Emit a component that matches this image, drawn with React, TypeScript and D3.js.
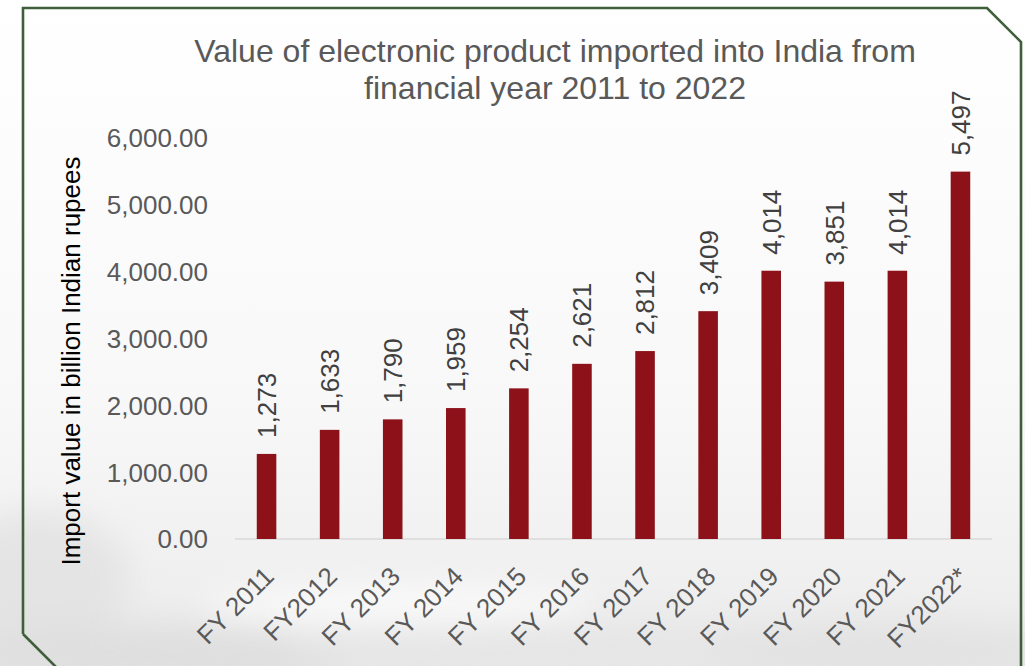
import React from "react";
import * as d3 from "d3";

const categories = ["FY 2011", "FY2012", "FY 2013", "FY 2014", "FY 2015", "FY 2016", "FY 2017", "FY 2018", "FY 2019", "FY 2020", "FY 2021", "FY2022*"];
const values = [1273, 1633, 1790, 1959, 2254, 2621, 2812, 3409, 4014, 3851, 4014, 5497];
const yTicks = [0, 1000, 2000, 3000, 4000, 5000, 6000];
const titleLines = ["Value of electronic product imported into India from", "financial year 2011 to 2022"];
const yTitle = "Import value in billion Indian rupees";

const W = 1025;
const H = 666;
const FONT = "'Liberation Sans', Arial, Helvetica, sans-serif";

export default function App() {
  const x = d3.scaleBand<string>().domain(categories).range([235, 992]).paddingInner(0.69).paddingOuter(0.345);
  const y = d3.scaleLinear().domain([0, 6000]).range([539, 138]);
  const fmtTick = d3.format(",.2f");
  const fmtVal = d3.format(",");
  const framePath = d3.path();
  framePath.moveTo(23, 634);
  framePath.lineTo(23, 8);
  framePath.lineTo(987, 8);
  framePath.lineTo(1021, 42);
  framePath.lineTo(1021, 700);
  framePath.moveTo(23, 634);
  framePath.lineTo(60, 671);

  return (
    <svg width={W} height={H} style={{ position: "fixed", left: 0, top: 0, display: "block" }} fontFamily={FONT}>
      <defs>
        <linearGradient id="bg" x1="0" y1="0" x2="0" y2="1">
          <stop offset="0" stopColor="#ffffff" />
          <stop offset="0.6" stopColor="#f8f8f8" />
          <stop offset="0.88" stopColor="#efefef" />
          <stop offset="1" stopColor="#e8e8e8" />
        </linearGradient>
        <filter id="blur" x="-50%" y="-50%" width="200%" height="200%">
          <feGaussianBlur stdDeviation="16" />
        </filter>
      </defs>
      <rect x={0} y={0} width={W} height={H} fill="url(#bg)" />
      <g filter="url(#blur)" opacity={0.7}>
        <ellipse cx={40} cy={580} rx={90} ry={70} fill="#e0e0e0" />
        <ellipse cx={160} cy={655} rx={200} ry={30} fill="#dadada" />
        <ellipse cx={520} cy={645} rx={240} ry={22} fill="#e4e4e4" />
        <ellipse cx={880} cy={650} rx={180} ry={28} fill="#e0e0e0" />
        <ellipse cx={400} cy={605} rx={200} ry={20} fill="#ffffff" />
      </g>
      <path d={framePath.toString()} fill="none" stroke="#3f5f3b" strokeWidth={2.6} />

      <g fill="#595959" fontSize={32} textAnchor="middle">
        {titleLines.map((t, i) => (
          <text key={i} x={555} y={62 + i * 37}>{t}</text>
        ))}
      </g>

      <text transform="translate(80,361) rotate(-90)" textAnchor="middle" fontSize={26} fill="#000000">{yTitle}</text>

      <g fontSize={26} fill="#595959" textAnchor="end">
        {yTicks.map((t) => (
          <text key={t} x={208} y={y(t)} dy="0.36em">{fmtTick(t)}</text>
        ))}
      </g>

      <line x1={235} x2={992} y1={y(0)} y2={y(0)} stroke="#d9d9d9" strokeWidth={1.5} />

      <g fill="#8c1119">
        {categories.map((c, i) => (
          <rect key={c} x={x(c)} y={y(values[i])} width={x.bandwidth()} height={y(0) - y(values[i])} />
        ))}
      </g>

      <g fontSize={26} fill="#404040" textAnchor="start">
        {categories.map((c, i) => {
          const cx = (x(c) as number) + x.bandwidth() / 2;
          return (
            <text key={c} transform={`translate(${cx},${y(values[i]) - 16}) rotate(-90)`} dy="0.36em">{fmtVal(values[i])}</text>
          );
        })}
      </g>

      <g fontSize={26} fill="#595959" textAnchor="end">
        {categories.map((c) => {
          const cx = (x(c) as number) + x.bandwidth() / 2;
          return (
            <text key={c} transform={`translate(${cx + 9},578) rotate(-45)`}>{c}</text>
          );
        })}
      </g>
    </svg>
  );
}
